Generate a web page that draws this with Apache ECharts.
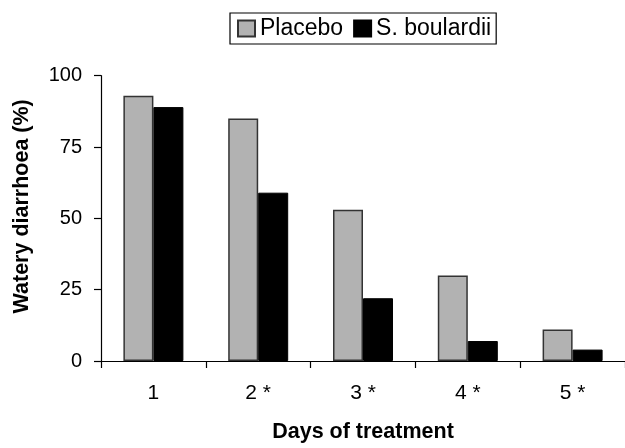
<!DOCTYPE html>
<html>
<head>
<meta charset="utf-8">
<script src="https://cdn.jsdelivr.net/npm/echarts@6/dist/echarts.min.js"></script>
<style>
html,body{margin:0;padding:0;background:#fff;}
#chart{width:625px;height:448px;}
</style>
</head>
<body>
<div id="chart"></div>
<script>
const categories = ['1', '2 *', '3 *', '4 *', '5 *'];
const placebo = [93, 85, 53, 30, 11];
const boulardii = [89, 59, 22, 7, 4];
const yTicks = [0, 25, 50, 75, 100];

const FONT = '"Liberation Sans", Arial, sans-serif';
const chart = echarts.init(document.getElementById('chart'), null, {renderer: 'canvas'});
chart.setOption({
  animation: false,
  backgroundColor: '#fff',
  textStyle: {fontFamily: FONT},
  legend: {
    left: 230, top: 13,
    padding: [4, 5, 4, 7],
    itemWidth: 17, itemHeight: 16, itemGap: 10,
    borderColor: '#000', borderWidth: 1.2,
    icon: 'rect',
    textStyle: {fontFamily: FONT, fontSize: 23, color: '#000'},
    data: ['Placebo', 'S. boulardii']
  },
  grid: {left: 101, right: -1, top: 75.7, bottom: 85.3},
  xAxis: {
    type: 'category',
    data: categories,
    name: 'Days of treatment',
    nameLocation: 'middle',
    nameGap: 60,
    nameTextStyle: {fontFamily: FONT, fontSize: 21.5, fontWeight: 'bold', color: '#000'},
    axisLine: {lineStyle: {color: '#000', width: 1.2}},
    axisTick: {show: true, alignWithLabel: false, length: 7, lineStyle: {color: '#000', width: 1.2}},
    axisLabel: {fontFamily: FONT, fontSize: 21, color: '#000', margin: 22}
  },
  yAxis: {
    type: 'value',
    min: yTicks[0], max: yTicks[yTicks.length - 1], interval: 25,
    name: 'Watery diarrhoea (%)',
    nameLocation: 'middle',
    nameGap: 68,
    nameTextStyle: {fontFamily: FONT, fontSize: 21.5, fontWeight: 'bold', color: '#000', padding: [0, 0, 0, 24]},
    axisLine: {show: true, lineStyle: {color: '#000', width: 1.2}},
    axisTick: {show: true, length: 7, lineStyle: {color: '#000', width: 1.2}},
    axisLabel: {fontFamily: FONT, fontSize: 20, color: '#000', margin: 19},
    splitLine: {show: false}
  },
  series: [
    {
      name: 'Placebo', type: 'bar', data: placebo,
      barWidth: 30, barGap: '0%',
      itemStyle: {color: '#b2b2b2', borderColor: '#333', borderWidth: 1.5}
    },
    {
      name: 'S. boulardii', type: 'bar', data: boulardii,
      barWidth: 30, barGap: '0%',
      itemStyle: {color: '#000', borderColor: '#000', borderWidth: 1}
    }
  ]
});
</script>
</body>
</html>
